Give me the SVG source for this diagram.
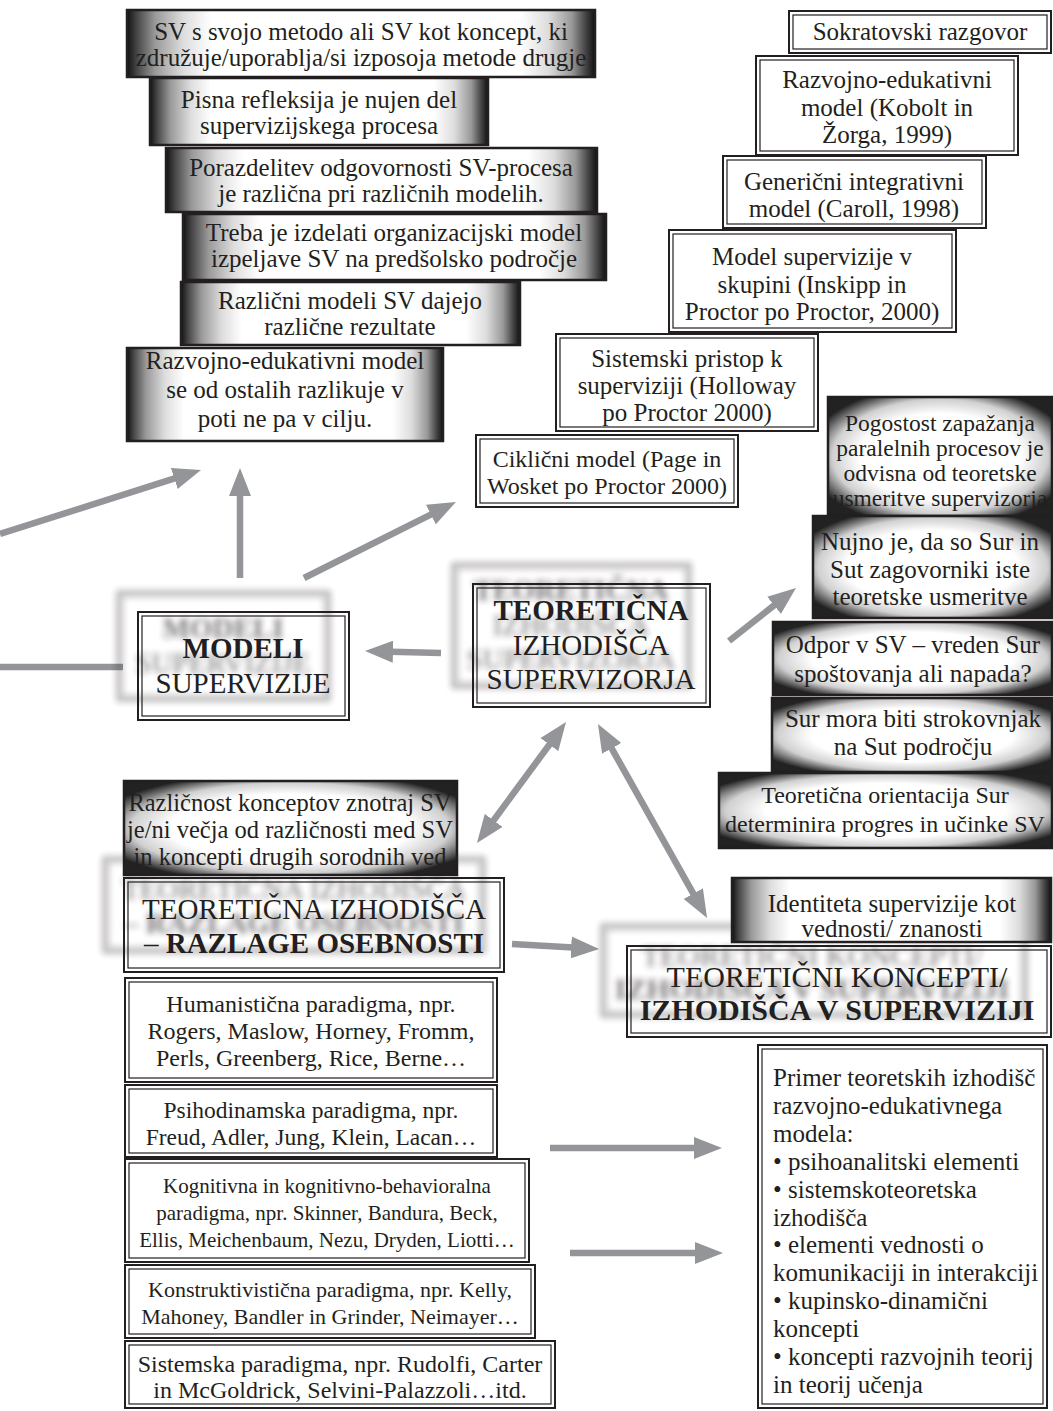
<svg xmlns="http://www.w3.org/2000/svg" xmlns:xlink="http://www.w3.org/1999/xlink" width="1053" height="1411" viewBox="0 0 1053 1411">
<style>
.t{font-family:"Liberation Serif","Times New Roman",serif;fill:#231f20;text-anchor:middle;font-size:25px}
.b{font-weight:bold}
.l{text-anchor:start}
.ob{fill:#fff;stroke:#231f20;stroke-width:2}
.on{fill:none;stroke:#231f20;stroke-width:2}
.ib{fill:none;stroke:#231f20;stroke-width:1.2}
.gh{fill:url(#gh);stroke:#231f20;stroke-width:2.5}
.gr{fill:url(#gr);stroke:#231f20;stroke-width:2.5}
.c{stroke:#939598;stroke-width:6.5;fill:none}
.sh{filter:url(#blur);opacity:.6}
</style>
<defs>
<linearGradient id="gh" x1="0" y1="0" x2="1" y2="0">
<stop offset="0" stop-color="#111"/><stop offset=".02" stop-color="#444"/><stop offset=".06" stop-color="#999"/><stop offset=".12" stop-color="#ddd"/><stop offset=".18" stop-color="#fff"/><stop offset=".84" stop-color="#fff"/><stop offset=".9" stop-color="#ddd"/><stop offset=".95" stop-color="#999"/><stop offset=".98" stop-color="#444"/><stop offset="1" stop-color="#111"/>
</linearGradient>
<radialGradient id="gr" cx=".5" cy=".5" r=".6">
<stop offset="0" stop-color="#fff"/><stop offset=".6" stop-color="#fff"/><stop offset=".8" stop-color="#d0d0d0"/><stop offset=".92" stop-color="#666"/><stop offset="1" stop-color="#222"/>
</radialGradient>
<filter id="blur" x="-10%" y="-20%" width="120%" height="140%"><feGaussianBlur stdDeviation="3"/></filter>
<marker id="ah" markerUnits="userSpaceOnUse" markerWidth="28" markerHeight="22" viewBox="0 0 28 22" refX="2" refY="11" orient="auto-start-reverse"><path d="M0,0 L28,11 L0,22 Z" fill="#939598"/></marker>
</defs>

<g id="connectors">
<line class="c" x1="0" y1="534" x2="176.2" y2="477.9" marker-end="url(#ah)"/>
<line class="c" x1="240" y1="578" x2="240" y2="494" marker-end="url(#ah)"/>
<line class="c" x1="304" y1="578" x2="432.7" y2="513.6" marker-end="url(#ah)"/>
<line class="c" x1="0" y1="667" x2="123" y2="667"/>
<line class="c" x1="441" y1="653" x2="391" y2="651.7" marker-end="url(#ah)"/>
<line class="c" x1="729" y1="641" x2="775.6" y2="604.1" marker-end="url(#ah)"/>
<line class="c" x1="550.6" y1="743" x2="492.4" y2="822" marker-start="url(#ah)" marker-end="url(#ah)"/>
<line class="c" x1="610.7" y1="746.7" x2="694.3" y2="895.3" marker-start="url(#ah)" marker-end="url(#ah)"/>
<line class="c" x1="512" y1="944" x2="573.1" y2="947.5" marker-end="url(#ah)"/>
<line class="c" x1="550" y1="1148" x2="696" y2="1148" marker-end="url(#ah)"/>
<line class="c" x1="570" y1="1253" x2="697" y2="1253" marker-end="url(#ah)"/>
</g>

<!-- top-left stack -->
<g id="n-tl1"><rect class="gh" x="127" y="10" width="468" height="67"/>
<text class="t"><tspan x="361" y="40">SV s svojo metodo ali SV kot koncept, ki</tspan><tspan x="361" y="66">združuje/uporablja/si izposoja metode drugje</tspan></text></g>
<g id="n-tl2"><rect class="gh" x="150" y="78" width="338" height="67"/>
<text class="t"><tspan x="319" y="108">Pisna refleksija je nujen del</tspan><tspan x="319" y="134">supervizijskega procesa</tspan></text></g>
<g id="n-tl3"><rect class="gh" x="166" y="148" width="431" height="64"/>
<text class="t"><tspan x="381" y="176">Porazdelitev odgovornosti SV-procesa</tspan><tspan x="381" y="202">je različna pri različnih modelih.</tspan></text></g>
<g id="n-tl4"><rect class="gh" x="183" y="214" width="423" height="66"/>
<text class="t"><tspan x="394" y="241">Treba je izdelati organizacijski model</tspan><tspan x="394" y="267">izpeljave SV na predšolsko področje</tspan></text></g>
<g id="n-tl5"><rect class="gh" x="181" y="282" width="339" height="63"/>
<text class="t"><tspan x="350" y="309">Različni modeli SV dajejo</tspan><tspan x="350" y="335">različne rezultate</tspan></text></g>
<g id="n-tl6"><rect class="gh" x="127" y="348" width="316" height="93"/>
<text class="t"><tspan x="285" y="369">Razvojno-edukativni model</tspan><tspan x="285" y="398">se od ostalih razlikuje v</tspan><tspan x="285" y="427">poti ne pa v cilju.</tspan></text></g>

<!-- top-right stack -->
<g id="n-tr1"><rect class="ob" x="789" y="11" width="262" height="42"/><rect class="ib" x="793" y="15" width="254" height="34"/>
<text class="t" x="920" y="40">Sokratovski razgovor</text></g>
<g id="n-tr2"><rect class="ob" x="756" y="56" width="262" height="99"/><rect class="ib" x="760" y="60" width="254" height="91"/>
<text class="t"><tspan x="887" y="88">Razvojno-edukativni</tspan><tspan x="887" y="116">model (Kobolt in</tspan><tspan x="887" y="143">Žorga, 1999)</tspan></text></g>
<g id="n-tr3"><rect class="ob" x="723" y="156" width="263" height="72"/><rect class="ib" x="727" y="160" width="255" height="64"/>
<text class="t"><tspan x="854" y="190">Generični integrativni</tspan><tspan x="854" y="217">model (Caroll, 1998)</tspan></text></g>
<g id="n-tr4"><rect class="ob" x="669" y="230" width="287" height="102"/><rect class="ib" x="673" y="234" width="279" height="94"/>
<text class="t"><tspan x="812" y="265">Model supervizije v</tspan><tspan x="812" y="293">skupini (Inskipp in</tspan><tspan x="812" y="320">Proctor po Proctor, 2000)</tspan></text></g>
<g id="n-tr5"><rect class="ob" x="556" y="334" width="262" height="97"/><rect class="ib" x="560" y="338" width="254" height="89"/>
<text class="t"><tspan x="687" y="367">Sistemski pristop k</tspan><tspan x="687" y="394">superviziji (Holloway</tspan><tspan x="687" y="421">po Proctor 2000)</tspan></text></g>
<g id="n-tr6"><rect class="ob" x="476" y="435" width="262" height="72"/><rect class="ib" x="480" y="439" width="254" height="64"/>
<text class="t" style="font-size:24px"><tspan x="607" y="467">Ciklični model (Page in</tspan><tspan x="607" y="494">Wosket po Proctor 2000)</tspan></text></g>

<!-- right stack -->
<g id="n-r1"><rect class="gr" x="828" y="397" width="224" height="119"/>
<text class="t" style="font-size:23.5px"><tspan x="940" y="431">Pogostost zapažanja</tspan><tspan x="940" y="456">paralelnih procesov je</tspan><tspan x="940" y="481">odvisna od teoretske</tspan><tspan x="940" y="506">usmeritve supervizorja</tspan></text></g>
<g id="n-r2"><rect class="gr" x="813" y="516" width="239" height="102"/>
<text class="t"><tspan x="930" y="550">Nujno je, da so Sur in</tspan><tspan x="930" y="578">Sut zagovorniki iste</tspan><tspan x="930" y="605">teoretske usmeritve</tspan></text></g>
<g id="n-r3"><rect class="gr" x="773" y="622" width="279" height="73"/>
<text class="t"><tspan x="913" y="653">Odpor v SV – vreden Sur</tspan><tspan x="913" y="682">spoštovanja ali napada?</tspan></text></g>
<g id="n-r4"><rect class="gr" x="772" y="698" width="280" height="74"/>
<text class="t"><tspan x="913" y="727">Sur mora biti strokovnjak</tspan><tspan x="913" y="755">na Sut področju</tspan></text></g>
<g id="n-r5"><rect class="gr" x="719" y="773" width="333" height="75"/>
<text class="t" style="font-size:24px"><tspan x="885" y="803">Teoretična orientacija Sur</tspan><tspan x="885" y="832">determinira progres in učinke SV</tspan></text></g>

<!-- central nodes -->
<g id="n-modeli">
<use xlink:href="#modeli-core" href="#modeli-core" class="sh" transform="translate(-20,-20)"/>
<g id="modeli-core"><rect class="on" x="138" y="612" width="211" height="108"/><rect class="ib" x="142" y="616" width="203" height="100"/>
<text class="t" style="font-size:29px"><tspan class="b" x="243" y="658">MODELI</tspan><tspan x="243" y="693">SUPERVIZIJE</tspan></text></g>
</g>
<g id="n-teor">
<use xlink:href="#teor-core" href="#teor-core" class="sh" transform="translate(-20,-20)"/>
<g id="teor-core"><rect class="on" x="473" y="584" width="237" height="123"/><rect class="ib" x="477" y="588" width="229" height="115"/>
<text class="t" style="font-size:29px"><tspan class="b" x="591" y="620">TEORETIČNA</tspan><tspan x="591" y="655">IZHODIŠČA</tspan><tspan x="591" y="689">SUPERVIZORJA</tspan></text></g>
</g>

<g id="n-razlage">
<use xlink:href="#razlage-core" href="#razlage-core" class="sh" transform="translate(-20,-20)"/>
<g id="razlage-core"><rect class="on" x="124" y="878" width="380" height="94"/><rect class="ib" x="128" y="882" width="372" height="86"/>
<text class="t" style="font-size:29px"><tspan x="314" y="919">TEORETIČNA IZHODIŠČA</tspan><tspan x="314" y="953">– <tspan class="b">RAZLAGE OSEBNOSTI</tspan></tspan></text></g>
</g>
<g id="n-razlicnost"><rect class="gr" x="124" y="781" width="333" height="94"/>
<text class="t" style="font-size:24.5px"><tspan x="290" y="811">Različnost konceptov znotraj SV</tspan><tspan x="290" y="838">je/ni večja od različnosti med SV</tspan><tspan x="290" y="865">in koncepti drugih sorodnih ved</tspan></text></g>

<g id="n-koncepti">
<use xlink:href="#koncepti-core" href="#koncepti-core" class="sh" transform="translate(-25,-21)"/>
<g id="koncepti-core"><rect class="on" x="627" y="946" width="424" height="91"/><rect class="ib" x="631" y="950" width="416" height="83"/>
<text class="t" style="font-size:30px"><tspan x="837" y="987">TEORETIČNI KONCEPTI/</tspan><tspan class="b" x="837" y="1020">IZHODIŠČA V SUPERVIZIJI</tspan></text></g>
</g>
<g id="n-identiteta"><rect class="gh" x="732" y="878" width="319" height="64"/>
<text class="t"><tspan x="892" y="912">Identiteta supervizije kot</tspan><tspan x="892" y="937">vednosti/ znanosti</tspan></text></g>

<!-- bottom-left list -->
<g id="n-hum"><rect class="ob" x="125" y="978" width="372" height="104"/><rect class="ib" x="129" y="982" width="364" height="96"/>
<text class="t" style="font-size:24px"><tspan x="311" y="1012">Humanistična paradigma, npr.</tspan><tspan x="311" y="1039">Rogers, Maslow, Horney, Fromm,</tspan><tspan x="311" y="1066">Perls, Greenberg, Rice, Berne…</tspan></text></g>
<g id="n-psi"><rect class="ob" x="125" y="1085" width="372" height="72"/><rect class="ib" x="129" y="1089" width="364" height="64"/>
<text class="t" style="font-size:23.5px"><tspan x="311" y="1118">Psihodinamska paradigma, npr.</tspan><tspan x="311" y="1145">Freud, Adler, Jung, Klein, Lacan…</tspan></text></g>
<g id="n-kog"><rect class="ob" x="125" y="1159" width="404" height="103"/><rect class="ib" x="129" y="1163" width="396" height="95"/>
<text class="t" style="font-size:21px"><tspan x="327" y="1193">Kognitivna in kognitivno-behavioralna</tspan><tspan x="327" y="1220">paradigma, npr. Skinner, Bandura, Beck,</tspan><tspan x="327" y="1247">Ellis, Meichenbaum, Nezu, Dryden, Liotti…</tspan></text></g>
<g id="n-kon"><rect class="ob" x="125" y="1265" width="410" height="73"/><rect class="ib" x="129" y="1269" width="402" height="65"/>
<text class="t" style="font-size:22px"><tspan x="330" y="1297">Konstruktivistična paradigma, npr.  Kelly,</tspan><tspan x="330" y="1324">Mahoney, Bandler in Grinder, Neimayer…</tspan></text></g>
<g id="n-sis"><rect class="ob" x="125" y="1341" width="430" height="67"/><rect class="ib" x="129" y="1345" width="422" height="59"/>
<text class="t" style="font-size:24px"><tspan x="340" y="1372">Sistemska paradigma, npr. Rudolfi, Carter</tspan><tspan x="340" y="1398">in McGoldrick, Selvini-Palazzoli…itd.</tspan></text></g>

<!-- bottom-right -->
<g id="n-primer"><rect class="ob" x="758" y="1045" width="289" height="363"/><rect class="ib" x="762" y="1049" width="281" height="355"/>
<text class="t l">
<tspan x="773" y="1086">Primer teoretskih izhodišč</tspan>
<tspan x="773" y="1113.9">razvojno-edukativnega</tspan>
<tspan x="773" y="1141.8">modela:</tspan>
<tspan x="773" y="1169.7">• psihoanalitski elementi</tspan>
<tspan x="773" y="1197.6">• sistemskoteoretska</tspan>
<tspan x="773" y="1225.5">izhodišča</tspan>
<tspan x="773" y="1253.4">• elementi vednosti o</tspan>
<tspan x="773" y="1281.3">komunikaciji in interakciji</tspan>
<tspan x="773" y="1309.2">• kupinsko-dinamični</tspan>
<tspan x="773" y="1337.1">koncepti</tspan>
<tspan x="773" y="1365">• koncepti razvojnih teorij</tspan>
<tspan x="773" y="1392.9">in teorij učenja</tspan>
</text></g>
</svg>
